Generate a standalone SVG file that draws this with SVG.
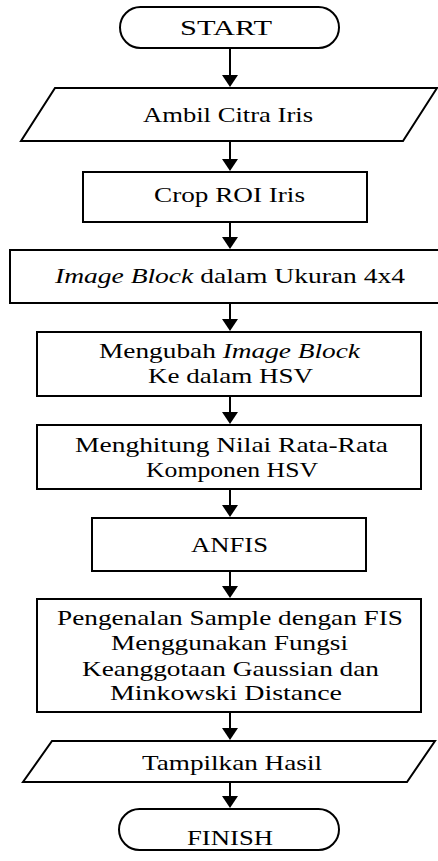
<svg xmlns="http://www.w3.org/2000/svg" width="438" height="861" viewBox="0 0 438 861">
<style>
.s{fill:#fff;stroke:#000;stroke-width:2}
.t{font-family:'Liberation Serif','Times New Roman','DejaVu Serif',serif;font-size:21px;fill:#000;text-anchor:middle}
.l{stroke:#000;stroke-width:2}
</style>
<defs>
<path id="ah" d="M-8,0 L8,0 L0,12 Z" fill="#000"/>
</defs>
<rect width="438" height="861" fill="#fff"/>
<g id="connectors">
<line class="l" x1="230" y1="48" x2="230" y2="80"/>
<use href="#ah" x="230" y="75"/>
<line class="l" x1="230" y1="141" x2="230" y2="164"/>
<use href="#ah" x="230" y="159"/>
<line class="l" x1="230" y1="222" x2="230" y2="242"/>
<use href="#ah" x="230" y="237"/>
<line class="l" x1="230" y1="303" x2="230" y2="324"/>
<use href="#ah" x="230" y="319"/>
<line class="l" x1="230" y1="396" x2="230" y2="417"/>
<use href="#ah" x="230" y="412"/>
<line class="l" x1="230" y1="489" x2="230" y2="510"/>
<use href="#ah" x="230" y="505"/>
<line class="l" x1="230" y1="571" x2="230" y2="591"/>
<use href="#ah" x="230" y="586"/>
<line class="l" x1="230" y1="712" x2="230" y2="733"/>
<use href="#ah" x="230" y="728"/>
<line class="l" x1="230" y1="782" x2="230" y2="801"/>
<use href="#ah" x="230" y="796"/>
</g>
<g id="start">
<rect class="s" x="120" y="7" width="219" height="41" rx="20.5"/>
<text class="t" x="226" y="35" textLength="92" lengthAdjust="spacingAndGlyphs">START</text>
</g>
<g id="ambil">
<polygon class="s" points="55,88 437,88 403,141 21,141"/>
<text class="t" x="228" y="122" textLength="170" lengthAdjust="spacingAndGlyphs">Ambil Citra Iris</text>
</g>
<g id="crop">
<rect class="s" x="83" y="172" width="284" height="50"/>
<text class="t" x="229.5" y="202" textLength="151" lengthAdjust="spacingAndGlyphs">Crop ROI Iris</text>
</g>
<g id="block">
<rect class="s" x="10" y="250" width="429" height="53"/>
<text class="t" x="230" y="283" textLength="350" lengthAdjust="spacingAndGlyphs"><tspan font-style="italic">Image Block</tspan> dalam Ukuran 4x4</text>
</g>
<g id="hsv">
<rect class="s" x="37" y="332" width="384" height="64"/>
<text class="t" x="229.5" y="358" textLength="261" lengthAdjust="spacingAndGlyphs">Mengubah <tspan font-style="italic">Image Block</tspan></text>
<text class="t" x="230.5" y="383" textLength="165" lengthAdjust="spacingAndGlyphs">Ke dalam HSV</text>
</g>
<g id="rata">
<rect class="s" x="37" y="425" width="384" height="64"/>
<text class="t" x="231.5" y="452" textLength="313" lengthAdjust="spacingAndGlyphs">Menghitung Nilai Rata-Rata</text>
<text class="t" x="232" y="477" textLength="172" lengthAdjust="spacingAndGlyphs">Komponen HSV</text>
</g>
<g id="anfis">
<rect class="s" x="92" y="518" width="274" height="53"/>
<text class="t" x="229.5" y="552" textLength="77" lengthAdjust="spacingAndGlyphs">ANFIS</text>
</g>
<g id="pengenalan">
<rect class="s" x="37" y="599" width="384" height="113"/>
<text class="t" x="230" y="625" textLength="346" lengthAdjust="spacingAndGlyphs">Pengenalan Sample dengan FIS</text>
<text class="t" x="229.5" y="650" textLength="237" lengthAdjust="spacingAndGlyphs">Menggunakan Fungsi</text>
<text class="t" x="230.5" y="676" textLength="297" lengthAdjust="spacingAndGlyphs">Keanggotaan Gaussian dan</text>
<text class="t" x="226" y="700" textLength="232" lengthAdjust="spacingAndGlyphs">Minkowski Distance</text>
</g>
<g id="tampil">
<polygon class="s" points="52,741 435,741 407,782 23,782"/>
<text class="t" x="232" y="770" textLength="180" lengthAdjust="spacingAndGlyphs">Tampilkan Hasil</text>
</g>
<g id="finish">
<rect class="s" x="119" y="809" width="220" height="41" rx="20.5"/>
<text class="t" x="230" y="845" textLength="86" lengthAdjust="spacingAndGlyphs">FINISH</text>
</g>
</svg>
